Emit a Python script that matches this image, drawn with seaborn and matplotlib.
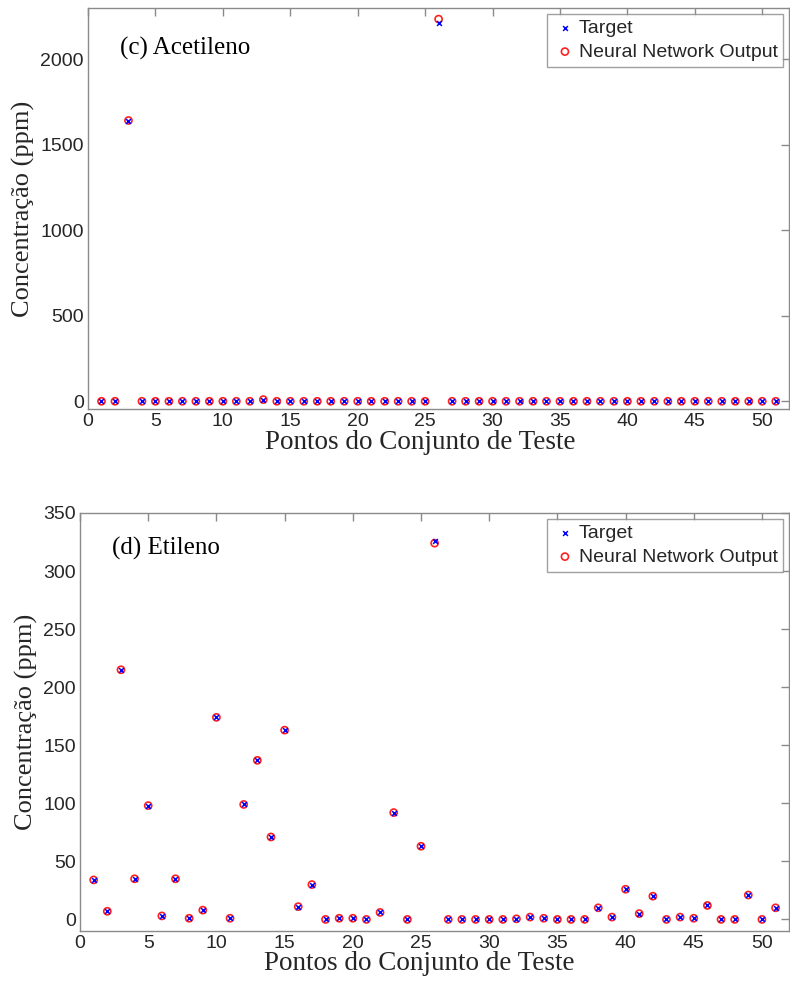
import numpy as np
import matplotlib
matplotlib.use("Agg")
import matplotlib.pyplot as plt
import seaborn as sns

# Test-set point indices
pontos = list(range(1, 52))

# (c) Acetileno concentrations (ppm)
acet_target = [0, 0, 1640, 0, 0, 0, 0, 0, 0, 0, 0, 0, 8, 0, 0, 0, 0, 0, 0, 0,
               0, 0, 0, 0, 0, 2215, 0, 0, 0, 0, 0, 0, 0, 0, 0, 0, 0, 0, 0, 0,
               0, 0, 0, 0, 0, 0, 0, 0, 0, 0, 0]
acet_output = [0, 0, 1642, 0, 0, 0, 0, 0, 0, 0, 0, 0, 10, 0, 0, 0, 0, 0, 0, 0,
               0, 0, 0, 0, 0, 2235, 0, 0, 0, 0, 0, 0, 0, 0, 0, 0, 0, 0, 0, 0,
               0, 0, 0, 0, 0, 0, 0, 0, 0, 0, 0]

# (d) Etileno concentrations (ppm)
etil_target = [34, 7, 215, 35, 98, 3, 35, 1, 8, 174, 1, 99, 137, 71, 163, 11, 30,
               0, 1, 1, 0, 6, 92, 0, 63, 326, 0, 0, 0, 0, 0, 0.5, 2, 1, 0, 0, 0,
               10, 2, 26, 5, 20, 0, 2, 1, 12, 0, 0, 21, 0, 10]
etil_output = [34, 7, 215, 35, 98, 3, 35, 1, 8, 174, 1, 99, 137, 71, 163, 11, 30,
               0, 1, 1, 0, 6, 92, 0, 63, 324, 0, 0, 0, 0, 0, 0.5, 2, 1, 0, 0, 0,
               10, 2, 26, 5, 20, 0, 2, 1, 12, 0, 0, 21, 0, 10]

sns.set_style("white")
plt.rcParams["font.family"] = ["Liberation Sans", "DejaVu Sans"]

SPINE = "#8a8a8a"
TEXT = "#262626"

fig = plt.figure(figsize=(7.9, 9.85), dpi=100)
ax1 = fig.add_axes([0.1114, 0.5848, 0.8876, 0.4071])
ax2 = fig.add_axes([0.1013, 0.0548, 0.8977, 0.4244])


def panel(ax, target, output, title, title_y, xlabel_xy, ylim, yticks):
    sns.scatterplot(x=pontos, y=output, ax=ax, marker="o", s=26,
                    facecolors="none", edgecolor="#ff2020", linewidth=1.2,
                    label="Neural Network Output", zorder=2)
    sns.scatterplot(x=pontos, y=target, ax=ax, marker="x", s=12,
                    color="#0000ff", linewidth=1.1, label="Target", zorder=3)
    ax.set_xlim(0, 52)
    ax.set_ylim(*ylim)
    ax.set_xticks(range(0, 51, 5))
    ax.set_yticks(yticks)
    for s in ax.spines.values():
        s.set_visible(True)
        s.set_color(SPINE)
        s.set_linewidth(1.0)
    ax.tick_params(direction="in", length=6, width=1.0, color=SPINE,
                   labelsize=14, labelcolor=TEXT, top=True, right=True,
                   pad=3)
    ax.set_xlabel("Pontos do Conjunto de Teste", fontsize=19.5,
                  family=["Liberation Serif"], color=TEXT)
    ax.xaxis.set_label_coords(*xlabel_xy, transform=ax.transAxes)
    ax.xaxis.label.set_va("top")
    ax.set_ylabel("Concentração (ppm)", fontsize=19,
                  family=["Liberation Serif"], color=TEXT, labelpad=4)
    ax.text(0.045, title_y, title, transform=ax.transAxes, fontsize=18,
            family=["Liberation Serif"], color="black", va="center", ha="left")
    handles, labels = ax.get_legend_handles_labels()
    order = [labels.index("Target"), labels.index("Neural Network Output")]
    leg = ax.legend([handles[i] for i in order], [labels[i] for i in order],
                    loc="upper right", fontsize=14, frameon=True, fancybox=False,
                    borderpad=0.3, handletextpad=0.1, labelspacing=0.3,
                    borderaxespad=0.3, handlelength=1.2)
    leg.get_frame().set_edgecolor(SPINE)
    leg.get_frame().set_linewidth(1.0)


panel(ax1, acet_target, acet_output, "(c) Acetileno", 0.90, (0.474, -0.052),
      (-45, 2300), [0, 500, 1000, 1500, 2000])
panel(ax2, etil_target, etil_output, "(d) Etileno", 0.915, (0.479, -0.048),
      (-10, 350), [0, 50, 100, 150, 200, 250, 300, 350])

fig.savefig("out.png", dpi=100, facecolor="white")
